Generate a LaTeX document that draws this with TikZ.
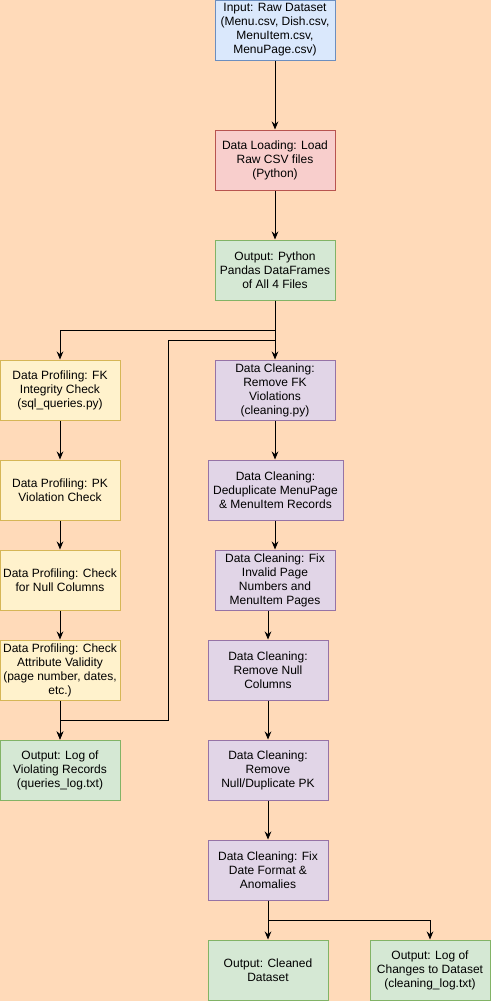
\documentclass[tikz,border=0pt]{standalone}
\usepackage{fontspec}
\setmainfont{Liberation Sans}
\usetikzlibrary{arrows.meta}
\definecolor{bgpeach}{HTML}{FFDAB9}
\begin{document}
\begin{tikzpicture}[x=0.75pt,y=-0.75pt,
  box/.style={draw, line width=0.75pt, minimum width=90pt, minimum height=45pt, inner sep=1pt, align=center, font=\fontsize{9pt}{10.5pt}\selectfont},
  inbox/.style={box, fill={rgb,255:red,218;green,232;blue,252}, draw={rgb,255:red,108;green,142;blue,191}},
  loadbox/.style={box, fill={rgb,255:red,248;green,206;blue,204}, draw={rgb,255:red,184;green,84;blue,80}},
  outbox/.style={box, fill={rgb,255:red,213;green,232;blue,212}, draw={rgb,255:red,130;green,179;blue,102}},
  profbox/.style={box, fill={rgb,255:red,255;green,242;blue,204}, draw={rgb,255:red,214;green,182;blue,86}},
  cleanbox/.style={box, fill={rgb,255:red,225;green,213;blue,231}, draw={rgb,255:red,150;green,115;blue,166}},
  arr/.style={-{Stealth[length=6pt,width=5pt]}, line width=0.75pt}]
\fill[bgpeach] (0,0) rectangle (491,1001);
\useasboundingbox (0,0) rectangle (491,1001);
\node[inbox] (in) at (275,30) {Input: Raw Dataset\\(Menu.csv, Dish.csv,\\MenuItem.csv,\\MenuPage.csv)};
\node[loadbox] (load) at (275,160) {Data Loading: Load\\Raw CSV files\\(Python)};
\node[outbox] (outdf) at (275,270) {Output: Python\\Pandas DataFrames\\of All 4 Files};
\node[profbox] (p1) at (60,390) {Data Profiling: FK\\Integrity Check\\(sql\_queries.py)};
\node[profbox] (p2) at (60,490) {Data Profiling: PK\\Violation Check};
\node[profbox] (p3) at (60,580) {Data Profiling: Check\\for Null Columns};
\node[profbox] (p4) at (60,670) {Data Profiling: Check\\Attribute Validity\\(page number, dates,\\etc.)};
\node[outbox] (logv) at (60,770) {Output: Log of\\Violating Records\\(queries\_log.txt)};
\node[cleanbox] (c1) at (275,390) {Data Cleaning:\\Remove FK\\Violations\\(cleaning.py)};
\node[cleanbox, minimum width=101.25pt] (c2) at (275.5,490) {Data Cleaning:\\Deduplicate MenuPage\\\& MenuItem Records};
\node[cleanbox] (c3) at (275,580) {Data Cleaning: Fix\\Invalid Page\\Numbers and\\MenuItem Pages};
\node[cleanbox] (c4) at (268,670) {Data Cleaning:\\Remove Null\\Columns};
\node[cleanbox] (c5) at (268,770) {Data Cleaning:\\Remove\\Null/Duplicate PK};
\node[cleanbox] (c6) at (268,870) {Data Cleaning: Fix\\Date Format \&\\Anomalies};
\node[outbox] (cleaned) at (268,970) {Output: Cleaned\\Dataset};
\node[outbox] (logc) at (430,970) {Output: Log of\\Changes to Dataset\\(cleaning\_log.txt)};
\coordinate (bend) at (168,720);
\draw[arr] (in) -- (load);
\draw[arr] (load) -- (outdf);
\draw[arr] (outdf) -- (c1);
\draw[arr] (outdf.south) -- ++(0,30) -| (p1.north);
\draw[arr] (outdf.south) -- ++(0,40) -| (bend) -| (logv.north);
\foreach \a/\b in {p1/p2,p2/p3,p3/p4,p4/logv,c4/c5,c5/c6,c6/cleaned} \draw[arr] (\a) -- (\b);
\draw[arr] (c1.south) -- (c1.south |- c2.north);
\draw[arr] (c1.south |- c2.south) -- (c1.south |- c3.north);
\draw[arr] (c4.north |- c3.south) -- (c4.north);
\draw[arr] (c6.south) -- ++(0,20) -| (logc.north);
\end{tikzpicture}
\end{document}
